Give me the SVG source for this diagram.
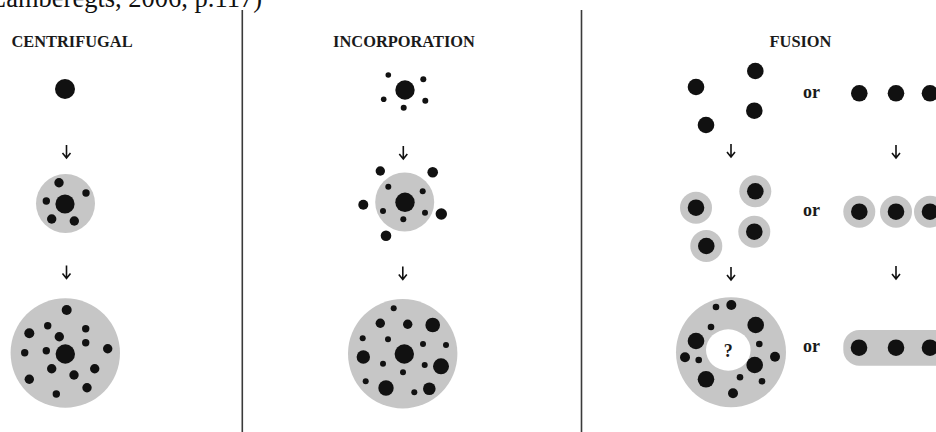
<svg xmlns="http://www.w3.org/2000/svg" width="936" height="432" viewBox="0 0 936 432">
  <style>
    .head { font-family: "Liberation Serif", "Times New Roman", serif; font-weight: bold; font-size: 16.4px; fill: #1a1a1a; text-anchor: middle; }
    .or { font-family: "Liberation Serif", "Times New Roman", serif; font-weight: bold; font-size: 18px; fill: #1a1a1a; }
    .cite { font-family: "Liberation Serif", "Times New Roman", serif; font-size: 26.5px; fill: #111; }
    .zone { fill: #c6c6c6; }
    .dot { fill: #111; }
    .arrow { fill: none; stroke: #111; stroke-width: 1.6; }
    .divider { stroke: #3a3a3a; stroke-width: 1.6; }
  </style>
  <defs>
    <!-- one downward arrow, origin at its top -->
    <path id="down" class="arrow" d="M0 0 V13 M-4 8 L0 13 L4 8"/>
    <!-- a settlement with its own grey ring -->
    <g id="ringed">
      <circle class="zone" r="16"/>
      <circle class="dot" r="8.3"/>
    </g>
  </defs>
  <rect width="936" height="432" fill="#fff"/>

  <text class="cite" x="-10" y="7">Lamberegts, 2006, p.117)</text>

  <line class="divider" x1="242.3" y1="10" x2="242.3" y2="432"/>
  <line class="divider" x1="581.5" y1="10" x2="581.5" y2="432"/>

  <text class="head" x="72" y="46.5">CENTRIFUGAL</text>
  <text class="head" x="404" y="46.5">INCORPORATION</text>
  <text class="head" x="800.5" y="46.5">FUSION</text>

  <!-- Centrifugal -->
  <g id="centrifugal-1">
    <circle class="dot" cx="65" cy="89" r="10"/>
  </g>
  <g id="centrifugal-2">
    <circle class="zone" cx="65.5" cy="203.5" r="29.5"/>
    <circle class="dot" cx="65" cy="204" r="9.6"/>
    <circle class="dot" cx="59" cy="182.7" r="4.7"/>
    <circle class="dot" cx="86" cy="193" r="3.7"/>
    <circle class="dot" cx="46.3" cy="201" r="3.7"/>
    <circle class="dot" cx="51.7" cy="219" r="4.7"/>
    <circle class="dot" cx="74.3" cy="221" r="4.7"/>
  </g>
  <g id="centrifugal-3">
    <circle class="zone" cx="65.3" cy="353" r="54.7"/>
    <circle class="dot" cx="66.7" cy="310" r="5"/>
    <circle class="dot" cx="47.7" cy="325.7" r="3.7"/>
    <circle class="dot" cx="29.3" cy="333.3" r="5"/>
    <circle class="dot" cx="85.7" cy="328.7" r="3.7"/>
    <circle class="dot" cx="59.3" cy="336.7" r="4.7"/>
    <circle class="dot" cx="85.7" cy="342.7" r="3.7"/>
    <circle class="dot" cx="107.7" cy="348.7" r="4.7"/>
    <circle class="dot" cx="24.7" cy="352.7" r="3.7"/>
    <circle class="dot" cx="46.3" cy="350.7" r="3.7"/>
    <circle class="dot" cx="65.3" cy="354" r="9.7"/>
    <circle class="dot" cx="51.7" cy="368.7" r="4.7"/>
    <circle class="dot" cx="74" cy="375" r="4.7"/>
    <circle class="dot" cx="94.7" cy="368.7" r="4.7"/>
    <circle class="dot" cx="29.3" cy="379.3" r="4.7"/>
    <circle class="dot" cx="87" cy="387.7" r="4.7"/>
    <circle class="dot" cx="56.3" cy="394" r="3.7"/>
  </g>

  <!-- Incorporation -->
  <g id="incorporation-1">
    <circle class="dot" cx="405" cy="90" r="9.7"/>
    <circle class="dot" cx="388.3" cy="75" r="2.8"/>
    <circle class="dot" cx="423.3" cy="79.3" r="3"/>
    <circle class="dot" cx="383.7" cy="99.3" r="2.8"/>
    <circle class="dot" cx="425.3" cy="100.7" r="3"/>
    <circle class="dot" cx="403.7" cy="107.7" r="3"/>
  </g>
  <g id="incorporation-2">
    <circle class="zone" cx="404.7" cy="202" r="29.5"/>
    <circle class="dot" cx="405" cy="202.3" r="9.7"/>
    <circle class="dot" cx="388.3" cy="186.7" r="3"/>
    <circle class="dot" cx="422.7" cy="191.3" r="3"/>
    <circle class="dot" cx="383" cy="211" r="3"/>
    <circle class="dot" cx="425" cy="212.7" r="3"/>
    <circle class="dot" cx="403.3" cy="219.3" r="3"/>
    <circle class="dot" cx="380.3" cy="171" r="4.7"/>
    <circle class="dot" cx="432.7" cy="172.3" r="5.3"/>
    <circle class="dot" cx="363.3" cy="204.7" r="5"/>
    <circle class="dot" cx="441.3" cy="214" r="5.7"/>
    <circle class="dot" cx="386" cy="235.7" r="5.3"/>
  </g>
  <g id="incorporation-3">
    <circle class="zone" cx="402.7" cy="353.8" r="54.7"/>
    <circle class="dot" cx="393.7" cy="308.3" r="3"/>
    <circle class="dot" cx="380.3" cy="323.3" r="4.7"/>
    <circle class="dot" cx="407.7" cy="324.3" r="4.7"/>
    <circle class="dot" cx="432.7" cy="325" r="7.3"/>
    <circle class="dot" cx="362.7" cy="338.3" r="3"/>
    <circle class="dot" cx="388" cy="339.3" r="3"/>
    <circle class="dot" cx="423" cy="344" r="3"/>
    <circle class="dot" cx="446" cy="345" r="3"/>
    <circle class="dot" cx="404.3" cy="354" r="9.7"/>
    <circle class="dot" cx="363.3" cy="357" r="6.7"/>
    <circle class="dot" cx="383" cy="363.7" r="3"/>
    <circle class="dot" cx="424.7" cy="365" r="3"/>
    <circle class="dot" cx="441" cy="366.3" r="8"/>
    <circle class="dot" cx="403" cy="372.3" r="3"/>
    <circle class="dot" cx="365.7" cy="381.3" r="3"/>
    <circle class="dot" cx="386" cy="388" r="7.7"/>
    <circle class="dot" cx="414.3" cy="392.3" r="3"/>
    <circle class="dot" cx="429.3" cy="388.7" r="6.3"/>
  </g>

  <!-- Fusion: scattered variant -->
  <g id="fusion-a-1">
    <circle class="dot" cx="755.3" cy="71" r="8.3"/>
    <circle class="dot" cx="696" cy="87" r="8.3"/>
    <circle class="dot" cx="754.3" cy="110.7" r="8.3"/>
    <circle class="dot" cx="706" cy="125" r="8.3"/>
  </g>
  <g id="fusion-a-2">
    <use href="#ringed" x="755.3" y="191.3"/>
    <use href="#ringed" x="696" y="207.7"/>
    <use href="#ringed" x="754.3" y="231.7"/>
    <use href="#ringed" x="706.3" y="246"/>
  </g>
  <g id="fusion-a-3">
    <circle class="zone" cx="731" cy="352.3" r="55"/>
    <ellipse cx="728.3" cy="350" rx="22.3" ry="20.7" fill="#fff"/>
    <text class="or" x="728.3" y="356.5" text-anchor="middle">?</text>
    <circle class="dot" cx="716" cy="307" r="3.3"/>
    <circle class="dot" cx="731.3" cy="305" r="5"/>
    <circle class="dot" cx="711" cy="327" r="3.3"/>
    <circle class="dot" cx="755.7" cy="325" r="8.3"/>
    <circle class="dot" cx="696" cy="341" r="8.3"/>
    <circle class="dot" cx="759.3" cy="344" r="3.3"/>
    <circle class="dot" cx="685" cy="357.3" r="5"/>
    <circle class="dot" cx="698.7" cy="360" r="3.3"/>
    <circle class="dot" cx="775" cy="356.7" r="5"/>
    <circle class="dot" cx="754.7" cy="365" r="8.3"/>
    <circle class="dot" cx="706" cy="379.3" r="8.3"/>
    <circle class="dot" cx="740" cy="377.3" r="3.3"/>
    <circle class="dot" cx="762" cy="381.3" r="3.3"/>
    <circle class="dot" cx="733" cy="393.3" r="5"/>
  </g>

  <text class="or" x="803" y="98.3">or</text>
  <text class="or" x="803" y="216">or</text>
  <text class="or" x="803" y="351.5">or</text>

  <!-- Fusion: linear variant -->
  <g id="fusion-b-1">
    <circle class="dot" cx="859.3" cy="93.3" r="8.3"/>
    <circle class="dot" cx="896" cy="93.3" r="8.3"/>
    <circle class="dot" cx="930" cy="93.3" r="8.3"/>
  </g>
  <g id="fusion-b-2">
    <use href="#ringed" x="859.3" y="211.7"/>
    <use href="#ringed" x="896" y="211.7"/>
    <use href="#ringed" x="930" y="211.7"/>
  </g>
  <g id="fusion-b-3">
    <rect class="zone" x="843.3" y="330" width="120" height="35.7" rx="16"/>
    <circle class="dot" cx="859" cy="347.7" r="8.3"/>
    <circle class="dot" cx="896" cy="347.7" r="8.3"/>
    <circle class="dot" cx="930" cy="347.7" r="8.3"/>
  </g>

  <g id="connectors">
    <use href="#down" x="66.5" y="145"/>
    <use href="#down" x="66.5" y="265.5"/>
    <use href="#down" x="403.3" y="146"/>
    <use href="#down" x="402.8" y="266.5"/>
    <use href="#down" x="731" y="144"/>
    <use href="#down" x="731" y="267"/>
    <use href="#down" x="896" y="145"/>
    <use href="#down" x="896" y="266"/>
  </g>
</svg>
